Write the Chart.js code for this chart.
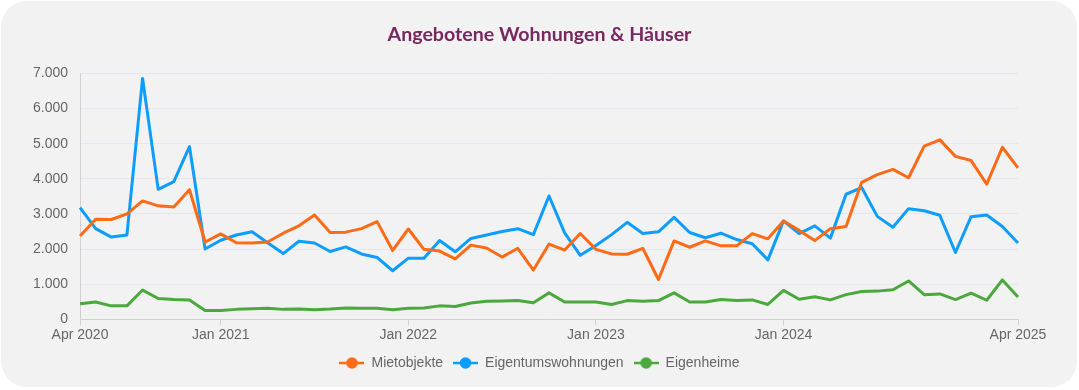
<!DOCTYPE html>
<html lang="de">
<head>
<meta charset="utf-8">
<title>Angebotene Wohnungen & Häuser</title>
<script src="https://cdn.jsdelivr.net/npm/chart.js@4.4.1/dist/chart.umd.min.js"></script>
<style>
  html, body { margin: 0; padding: 0; background: #fff; }
  .wrap { position: relative; width: 1079px; height: 390px; }
  .card { position: absolute; left: 1px; top: 1px; width: 1076px; height: 386px; background: #f2f2f2; border-radius: 26px; }
  canvas { position: absolute; left: 0; top: 0; }
</style>
</head>
<body>
<div class="wrap">
  <div class="card"></div>
  <canvas id="angeboteChart" width="1079" height="390"></canvas>
</div>
<script>
const months = [
  'Apr 2020', 'Mai 2020', 'Jun 2020', 'Jul 2020', 'Aug 2020', 'Sep 2020', 'Okt 2020', 'Nov 2020', 'Dez 2020',
  'Jan 2021', 'Feb 2021', 'Mär 2021', 'Apr 2021', 'Mai 2021', 'Jun 2021', 'Jul 2021', 'Aug 2021', 'Sep 2021', 'Okt 2021', 'Nov 2021', 'Dez 2021',
  'Jan 2022', 'Feb 2022', 'Mär 2022', 'Apr 2022', 'Mai 2022', 'Jun 2022', 'Jul 2022', 'Aug 2022', 'Sep 2022', 'Okt 2022', 'Nov 2022', 'Dez 2022',
  'Jan 2023', 'Feb 2023', 'Mär 2023', 'Apr 2023', 'Mai 2023', 'Jun 2023', 'Jul 2023', 'Aug 2023', 'Sep 2023', 'Okt 2023', 'Nov 2023', 'Dez 2023',
  'Jan 2024', 'Feb 2024', 'Mär 2024', 'Apr 2024', 'Mai 2024', 'Jun 2024', 'Jul 2024', 'Aug 2024', 'Sep 2024', 'Okt 2024', 'Nov 2024', 'Dez 2024',
  'Jan 2025', 'Feb 2025', 'Mär 2025', 'Apr 2025'
];
const shownTicks = ['Apr 2020', 'Jan 2021', 'Jan 2022', 'Jan 2023', 'Jan 2024', 'Apr 2025'];

const mietobjekte = [
  2370, 2850, 2840, 3000, 3370, 3230, 3200, 3690, 2200,
  2430, 2180, 2170, 2200, 2450, 2660, 2970, 2470, 2480, 2580, 2780, 1960,
  2570, 1990, 1940, 1720, 2110, 2030, 1770, 2020, 1400, 2140, 1970, 2440,
  1990, 1860, 1850, 2020, 1130, 2230, 2050, 2230, 2090, 2090, 2440, 2290,
  2800, 2530, 2240, 2580, 2640, 3900, 4120, 4270, 4030, 4930, 5110, 4640,
  4520, 3850, 4900, 4310
];
const eigentumswohnungen = [
  3180, 2580, 2340, 2400, 6860, 3700, 3920, 4920, 2000,
  2250, 2400, 2490, 2180, 1870, 2220, 2170, 1930, 2060, 1860, 1760, 1380,
  1740, 1740, 2240, 1920, 2300, 2400, 2500, 2580, 2410, 3510, 2460, 1820,
  2100, 2410, 2760, 2440, 2490, 2900, 2470, 2320, 2450, 2270, 2150, 1690,
  2800, 2440, 2660, 2310, 3560, 3750, 2930, 2620, 3150, 3090, 2960, 1900,
  2920, 2970, 2640, 2170
];
const eigenheime = [
  440, 490, 380, 380, 830, 590, 560, 550, 250,
  250, 280, 300, 310, 280, 290, 270, 290, 320, 310, 310, 270,
  310, 320, 380, 360, 460, 510, 520, 530, 470, 750, 490, 490,
  490, 420, 530, 510, 530, 750, 490, 490, 560, 530, 550, 420,
  820, 570, 640, 550, 700, 790, 800, 840, 1090, 700, 720, 560,
  740, 540, 1120, 630
];

// legend marker: short line with a dot in the middle
function legendIcon(color) {
    const c = document.createElement('canvas');
    c.width = 25;
    c.height = 14;
    const g = c.getContext('2d');
    g.strokeStyle = color;
    g.lineWidth = 2.5;
    g.beginPath();
    g.moveTo(0, 7);
    g.lineTo(25, 7);
    g.stroke();
    g.fillStyle = color;
    g.beginPath();
    g.arc(12.5, 7, 5.8, 0, Math.PI * 2);
    g.fill();
    return c;
}

function dePunkt(v) {
    return String(v).replace(/\B(?=(\d{3})+(?!\d))/g, '.');
}

function series(label, data, color) {
    return {
        label: label,
        data: data,
        borderColor: color,
        backgroundColor: color,
        borderWidth: 3,
        borderJoinStyle: 'round',
        pointRadius: 0,
        pointHoverRadius: 0,
        pointStyle: legendIcon(color),
        tension: 0,
        fill: false
    };
}

Chart.defaults.font.family = "'Liberation Sans', Arial, sans-serif";
Chart.defaults.font.size = 14;
Chart.defaults.color = '#666';

new Chart(document.getElementById('angeboteChart').getContext('2d'), {
    type: 'line',
    data: {
        labels: months,
        datasets: [
            series('Mietobjekte', mietobjekte, '#ff6a17'),
            series('Eigentumswohnungen', eigentumswohnungen, '#0c9dfd'),
            series('Eigenheime', eigenheime, '#4aa83c')
        ]
    },
    options: {
        responsive: false,
        animation: false,
        layout: { padding: { top: 13, left: 21, right: 21, bottom: 10 } },
        plugins: {
            title: {
                display: true,
                text: 'Angebotene Wohnungen & Häuser',
                color: '#7a2660',
                font: { family: 'Lato', size: 19.6, weight: 'bold' },
                padding: { top: 10, bottom: 27 }
            },
            legend: {
                position: 'bottom',
                labels: {
                    usePointStyle: true,
                    pointStyleWidth: 25,
                    padding: 10,
                    color: '#666',
                    font: { size: 14 }
                }
            },
            tooltip: { enabled: false }
        },
        scales: {
            x: {
                grid: { drawOnChartArea: false, drawTicks: true, tickLength: 6, color: '#d0d0d0' },
                border: { color: '#d0d0d0' },
                ticks: {
                    autoSkip: false,
                    maxRotation: 0,
                    padding: 2,
                    callback: function (value, index) {
                        return shownTicks.includes(months[index]) ? months[index] : null;
                    }
                }
            },
            y: {
                min: 0,
                max: 7000,
                grid: { color: '#e3e7ee', drawTicks: false },
                border: { color: '#d0d0d0' },
                ticks: { stepSize: 1000, padding: 12, callback: v => dePunkt(v) }
            },
            yR: {
                position: 'right',
                grid: { display: false, drawTicks: false },
                border: { display: false },
                ticks: { display: false },
                afterFit: function (scale) { scale.width = 40; }
            }
        }
    }
});
</script>
</body>
</html>
